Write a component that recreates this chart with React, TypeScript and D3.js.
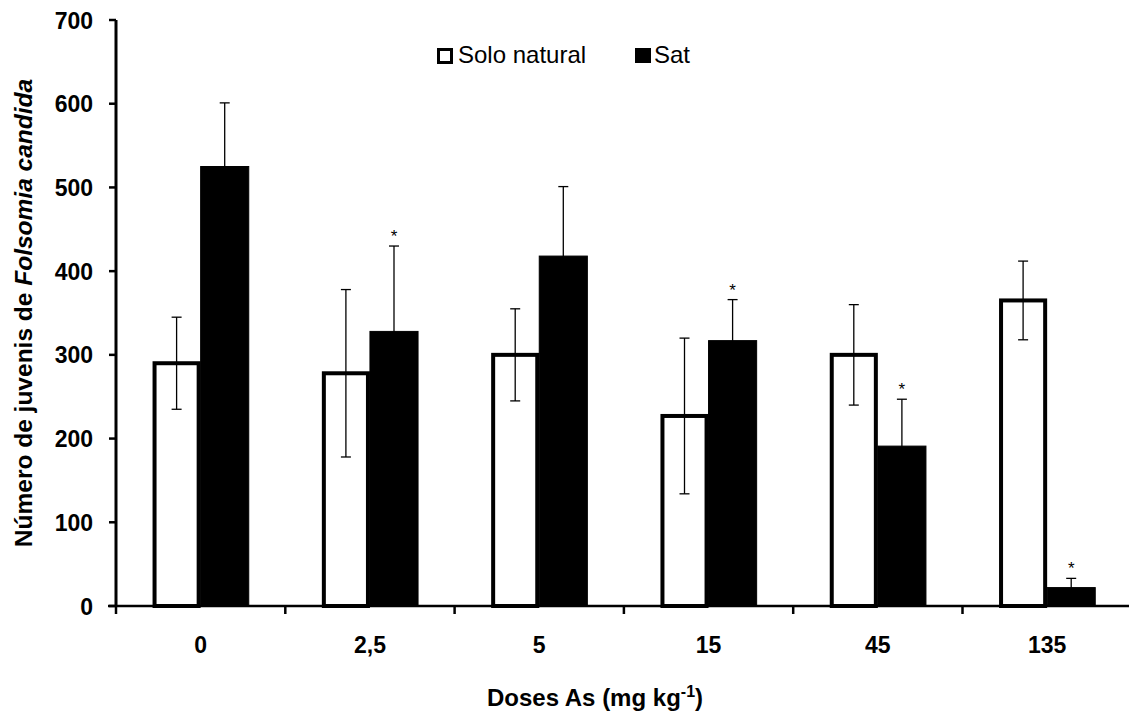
import * as d3 from "d3";

const categories = ["0", "2,5", "5", "15", "45", "135"];
const series = ["Solo natural", "Sat"];
const naturalValues = [290, 278, 300, 227, 300, 365];
const naturalErrors = [55, 100, 55, 93, 60, 47];
const satValues = [525, 328, 418, 317, 191, 22];
const satErrors = [76, 102, 83, 49, 56, 11];
const satSignificant = [false, true, false, true, true, true];
const yTicks = [0, 100, 200, 300, 400, 500, 600, 700];

const W = 1129;
const H = 718;
const left = 116;
const top = 20;
const bottom = 606;
const step = 169.3;
const font = "'Liberation Sans', Arial, sans-serif";

const App = () => {
  const y = d3.scaleLinear().domain([0, 700]).range([bottom, top]);
  const x = d3
    .scaleBand()
    .domain(categories)
    .range([left, left + step * categories.length])
    .padding(0);
  const inner = d3
    .scaleBand()
    .domain(series)
    .range([0, x.bandwidth()])
    .paddingInner(0)
    .paddingOuter(0.76);
  const bw = inner.bandwidth();

  const rows = categories.map((c, i) => ({
    cat: c,
    nat: naturalValues[i],
    natErr: naturalErrors[i],
    sat: satValues[i],
    satErr: satErrors[i],
    star: satSignificant[i],
  }));

  const errBar = (cx, v, e, key) => (
    <g key={key} stroke="#000" strokeWidth={1.3}>
      <line x1={cx} x2={cx} y1={y(v + e)} y2={y(Math.max(0, v - e))} />
      <line x1={cx - 5} x2={cx + 5} y1={y(v + e)} y2={y(v + e)} />
      <line x1={cx - 5} x2={cx + 5} y1={y(Math.max(0, v - e))} y2={y(Math.max(0, v - e))} />
    </g>
  );

  return (
    <div style={{ position: "absolute", left: 0, top: 0 }}>
      <svg width={W} height={H} style={{ display: "block", background: "#fff" }} fontFamily={font}>
        {/* bars */}
        {rows.map((d, i) => {
          const x0 = x(d.cat);
          const xn = x0 + inner("Solo natural") + 2;
          const xs = x0 + inner("Sat");
          return (
            <g key={i}>
              <rect x={xs} y={y(d.sat)} width={bw} height={bottom - y(d.sat)} fill="#000" stroke="#000" strokeWidth={1} />
              <rect x={xn} y={y(d.nat)} width={bw - 4} height={bottom - y(d.nat)} fill="#fff" stroke="#000" strokeWidth={4} />
              {errBar(xn + (bw - 4) / 2, d.nat, d.natErr, "n")}
              {errBar(xs + bw / 2, d.sat, d.satErr, "s")}
              {d.star && (
                <text x={xs + bw / 2} y={y(d.sat + d.satErr) - 4} textAnchor="middle" fontSize={17} fill="#000">
                  *
                </text>
              )}
            </g>
          );
        })}

        {/* axes */}
        <line x1={left} x2={left} y1={top} y2={bottom + 1} stroke="#000" strokeWidth={3} />
        <line x1={left - 8} x2={W} y1={bottom} y2={bottom} stroke="#000" strokeWidth={2.5} />
        {yTicks.map((t) => (
          <g key={t}>
            <line x1={left - 7} x2={left} y1={y(t)} y2={y(t)} stroke="#000" strokeWidth={2.5} />
            <text x={93} y={y(t) + 8.5} textAnchor="end" fontSize={23} fontWeight="bold" fill="#000">
              {t}
            </text>
          </g>
        ))}
        {categories.map((c) => (
          <g key={c}>
            <line x1={x(c)} x2={x(c)} y1={bottom} y2={bottom + 8} stroke="#000" strokeWidth={2.5} />
            <text x={x(c) + x.bandwidth() / 2} y={653} textAnchor="middle" fontSize={23} fontWeight="bold" fill="#000">
              {c}
            </text>
          </g>
        ))}

        {/* axis titles */}
        <text x={595} y={706} textAnchor="middle" fontSize={24} fontWeight="bold" fill="#000">
          Doses As (mg kg
          <tspan dy={-9} fontSize={16}>-1</tspan>
          <tspan dy={9}>)</tspan>
        </text>
        <text
          transform="translate(32,313) rotate(-90)"
          textAnchor="middle"
          fontSize={24.5}
          fontWeight="bold"
          fill="#000"
        >
          Número de juvenis de <tspan fontStyle="italic">Folsomia candida</tspan>
        </text>

        {/* legend */}
        <rect x={438.5} y={49.5} width={13} height={13} fill="#fff" stroke="#000" strokeWidth={3} />
        <text x={458} y={63} fontSize={24} fill="#000">Solo natural</text>
        <rect x={635} y={48} width={16} height={15} fill="#000" />
        <text x={654} y={63} fontSize={24} fill="#000">Sat</text>
      </svg>
    </div>
  );
};

export default App;
